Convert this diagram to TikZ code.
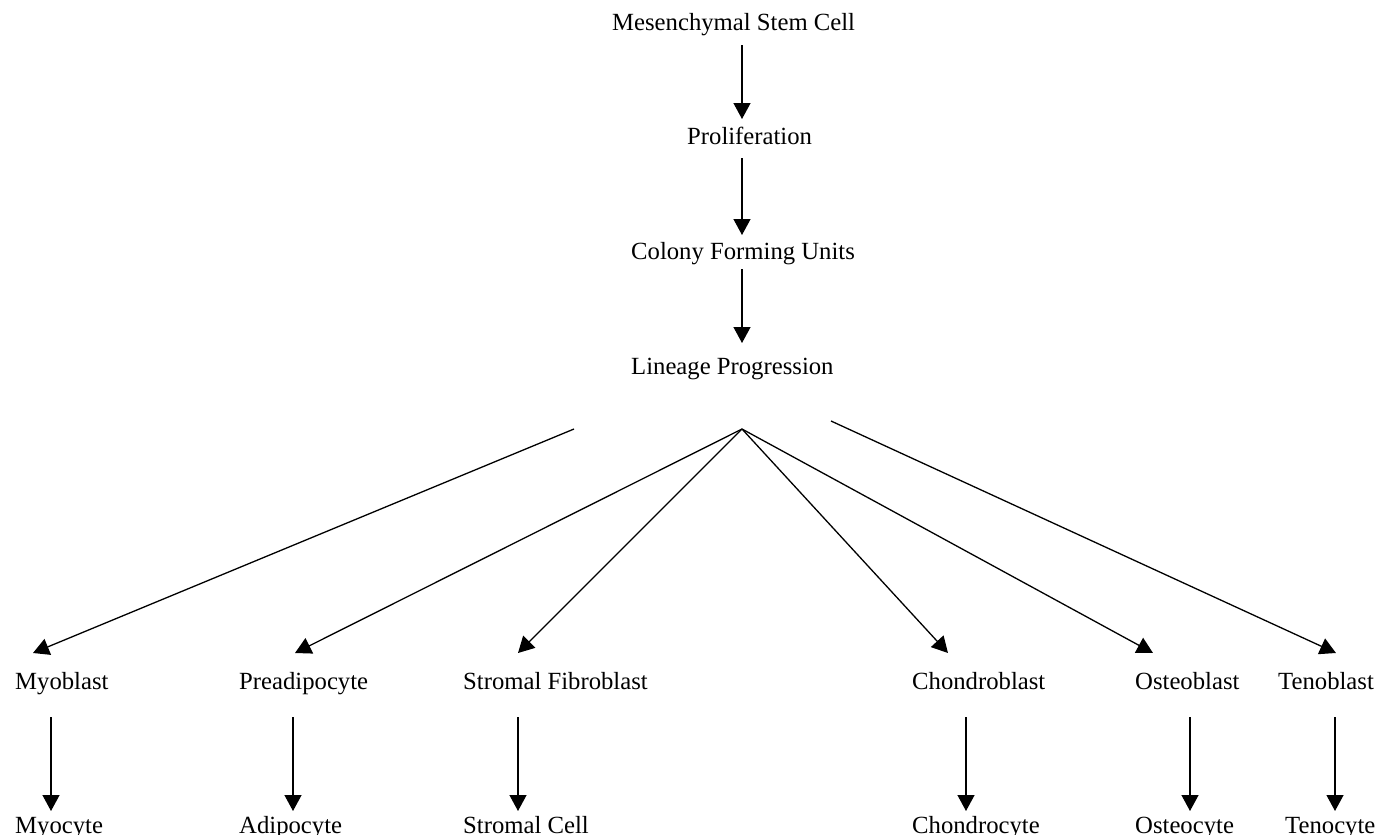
\documentclass[tikz,border=0pt]{standalone}
\usepackage{fontspec}
\setmainfont{Liberation Serif}
\usetikzlibrary{arrows.meta,calc}
\begin{document}
\begin{tikzpicture}[x=1pt,y=-1pt,
  lbl/.style={anchor=base west,inner sep=0pt,font=\fontsize{24.7}{29}\selectfont},
  arr/.style={line width=1.3pt,-{Triangle[width=17pt,length=16pt]}},
  ln/.style={line width=1.3pt}]
\useasboundingbox[fill=white] (0,0) rectangle (1390,835);
% top chain
\node[lbl] (msc) at (612,30) {Mesenchymal Stem Cell};
\node[lbl] (pro) at (687,144) {Proliferation};
\node[lbl] (cfu) at (631,259) {Colony Forming Units};
\node[lbl] (lp)  at (631,374) {Lineage Progression};
\coordinate (ax) at (742,0);
\coordinate (br) at (742,429);
\coordinate (lstart) at (574,429);
\coordinate (rstart) at (831,421);
% middle row
\node[lbl] (myob) at (15,689) {Myoblast};
\node[lbl] (prea) at (239,689) {Preadipocyte};
\node[lbl] (sfib) at (463,689) {Stromal Fibroblast};
\node[lbl] (chob) at (912,689) {Chondroblast};
\node[lbl] (ostb) at (1135,689) {Osteoblast};
\node[lbl] (tenb) at (1278,689) {Tenoblast};
% bottom row
\node[lbl] (myoc) at (15,833) {Myocyte};
\node[lbl] (adip) at (239,833) {Adipocyte};
\node[lbl] (strc) at (463,833) {Stromal Cell};
\node[lbl] (choc) at (912,833) {Chondrocyte};
\node[lbl] (ostc) at (1135,833) {Osteocyte};
\node[lbl] (tenc) at (1285,833) {Tenocyte};
% top arrows
\draw[arr] ($(msc.base -| ax)+(0,15)$) -- ($(pro.base -| ax)+(0,-25)$);
\draw[arr] ($(pro.base -| ax)+(0,14)$) -- ($(cfu.base -| ax)+(0,-24)$);
\draw[arr] ($(cfu.base -| ax)+(0,10)$) -- ($(lp.base -| ax)+(0,-31)$);
% branches
\draw[arr] (lstart) -- ($(myob.base west)+(18,-36)$);
\draw[arr] (br) -- ($(prea.base west)+(56,-36)$);
\draw[arr] (br) -- ($(sfib.base west)+(55,-36)$);
\draw[arr] (br) -- ($(chob.base west)+(36,-36)$);
\draw[arr] (br) -- ($(ostb.base west)+(18,-36)$);
\draw[arr] (rstart) -- ($(tenb.base west)+(58,-36)$);
% bottom arrows
\draw[arr] ($(myob.base west)+(36,28)$) -- ($(myoc.base west)+(36,-22)$);
\draw[arr] ($(prea.base west)+(54,28)$) -- ($(adip.base west)+(54,-22)$);
\draw[arr] ($(sfib.base west)+(55,28)$) -- ($(strc.base west)+(55,-22)$);
\draw[arr] ($(chob.base west)+(54,28)$) -- ($(choc.base west)+(54,-22)$);
\draw[arr] ($(ostb.base west)+(55,28)$) -- ($(ostc.base west)+(55,-22)$);
\draw[arr] ($(tenb.base west)+(57,28)$) -- ($(tenc.base west)+(50,-22)$);
\end{tikzpicture}
\end{document}
